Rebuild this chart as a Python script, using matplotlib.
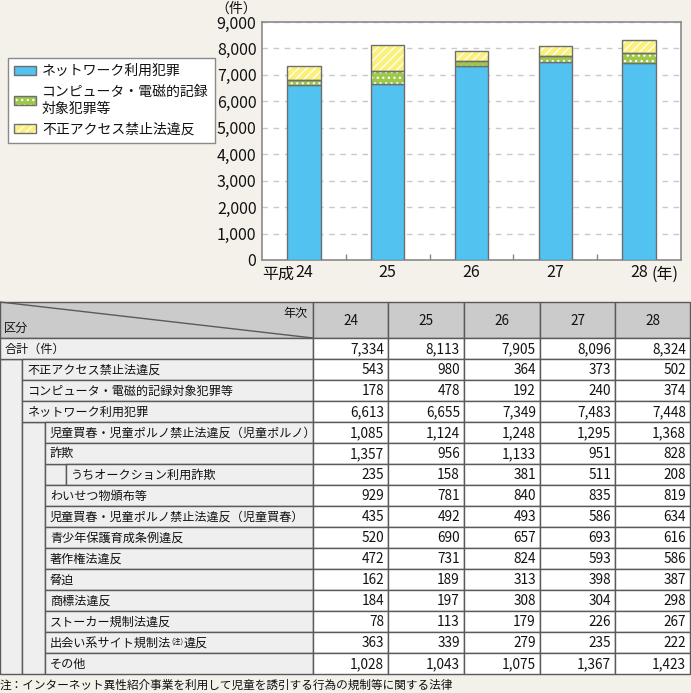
import matplotlib
matplotlib.use("Agg")
import matplotlib.pyplot as plt
from matplotlib.patches import Rectangle, Patch

plt.rcParams['font.family'] = ['Noto Sans CJK JP', 'DejaVu Sans']
plt.rcParams['hatch.linewidth'] = 0.9

# ---------------- data ----------------
years = ["24", "25", "26", "27", "28"]
row_labels = ["合計（件）", "不正アクセス禁止法違反", "コンピュータ・電磁的記録対象犯罪等",
              "ネットワーク利用犯罪", "児童買春・児童ポルノ禁止法違反（児童ポルノ）", "詐欺",
              "うちオークション利用詐欺", "わいせつ物頒布等", "児童買春・児童ポルノ禁止法違反（児童買春）",
              "青少年保護育成条例違反", "著作権法違反", "脅迫", "商標法違反", "ストーカー規制法違反",
              "出会い系サイト規制法|(注)|違反", "その他"]
row_levels = [0, 1, 1, 1, 2, 2, 3, 2, 2, 2, 2, 2, 2, 2, 2, 2]
h24 = [7334, 543, 178, 6613, 1085, 1357, 235, 929, 435, 520, 472, 162, 184, 78, 363, 1028]
h25 = [8113, 980, 478, 6655, 1124, 956, 158, 781, 492, 690, 731, 189, 197, 113, 339, 1043]
h26 = [7905, 364, 192, 7349, 1248, 1133, 381, 840, 493, 657, 824, 313, 308, 179, 279, 1075]
h27 = [8096, 373, 240, 7483, 1295, 951, 511, 835, 586, 693, 593, 398, 304, 226, 235, 1367]
h28 = [8324, 502, 374, 7448, 1368, 828, 208, 819, 634, 616, 586, 387, 298, 267, 222, 1423]
table_cols = [h24, h25, h26, h27, h28]

network = [c[3] for c in table_cols]
computer = [c[2] for c in table_cols]
access = [c[1] for c in table_cols]
legend_labels = ["ネットワーク利用犯罪", "コンピュータ・電磁的記録\n対象犯罪等", "不正アクセス禁止法違反"]
footnote = "注：インターネット異性紹介事業を利用して児童を誘引する行為の規制等に関する法律"

# ---------------- style ----------------
BG = '#f4f0ea'
BLUE = '#52c2f0'
GREEN = '#9dc84a'
YELLOW = '#fbf07a'
EDGE = '#6e6e6e'
GRIDC = '#c9c9c9'
HEADC = '#cbcbcb'
LABC = '#efefef'
LINEC = '#5a5a5a'
TXT = '#111111'

W, H = 691, 693
fig = plt.figure(figsize=(W / 100, H / 100), dpi=100, facecolor=BG)

# ---------------- table (pixel coordinates) ----------------
tab = fig.add_axes([0, 0, 1, 1])
tab.set_xlim(0, W)
tab.set_ylim(H, 0)
tab.axis('off')
tab.patch.set_alpha(0)

col_x = [313, 388, 464, 540, 615, 690]
indent = [0, 22, 45, 66]
top, head_bot, row_h = 302, 338, 21.0
lw = 1.0
LFS = 8.7
VFS = 9.8

def cell(x0, y0, x1, y1, fc):
    tab.add_patch(Rectangle((x0, y0), x1 - x0, y1 - y0, facecolor=fc,
                            edgecolor=LINEC, linewidth=lw))

# header
cell(0, top, col_x[0], head_bot, HEADC)
for j in range(5):
    cell(col_x[j], top, col_x[j + 1], head_bot, HEADC)
    tab.text((col_x[j] + col_x[j + 1]) / 2, (top + head_bot) / 2 + 1, years[j],
             ha='center', va='center', fontsize=VFS, color=TXT)
tab.plot([0, col_x[0]], [top, head_bot], color=LINEC, lw=1.0)
tab.text(col_x[0] - 5, 314, "年次", ha='right', va='center', fontsize=LFS, color=TXT)
tab.text(4, 328, "区分", ha='left', va='center', fontsize=LFS, color=TXT)

n = len(row_labels)
# merged left strips
for L in range(1, 4):
    i = 0
    while i < n:
        if row_levels[i] >= L:
            j = i
            while j + 1 < n and row_levels[j + 1] >= L:
                j += 1
            cell(indent[L - 1], head_bot + i * row_h, indent[L], head_bot + (j + 1) * row_h, LABC)
            i = j + 1
        else:
            i += 1

for i, (lab, lev) in enumerate(zip(row_labels, row_levels)):
    y0 = head_bot + i * row_h
    y1 = y0 + row_h
    yc = (y0 + y1) / 2 + 0.5
    cell(indent[lev], y0, col_x[0], y1, LABC)
    if '|' in lab:
        a, b, c = lab.split('|')
        t1 = tab.text(indent[lev] + 5, yc, a, ha='left', va='center', fontsize=LFS, color=TXT)
        t2 = tab.annotate(b, xy=(1, 0.62), xycoords=t1, ha='left', va='center',
                          fontsize=5.2, color=TXT)
        tab.annotate(c, xy=(1, 0.5), xycoords=(t2, t1), ha='left', va='center',
                     fontsize=LFS, color=TXT)
    else:
        tab.text(indent[lev] + 5, yc, lab, ha='left', va='center', fontsize=LFS, color=TXT)
    for j in range(5):
        cell(col_x[j], y0, col_x[j + 1], y1, 'white')
        tab.text(col_x[j + 1] - 4, yc, f"{table_cols[j][i]:,}", ha='right', va='center',
                 fontsize=VFS, color=TXT)

tab.text(0, 685, footnote, ha='left', va='center', fontsize=8.4, color=TXT)

# ---------------- bar chart ----------------
ax = fig.add_axes([262 / W, 1 - 260 / H, 419 / W, 238 / H])
ax.set_facecolor('white')
x = list(range(len(years)))
bw = 0.4

ax.bar(x, network, bw, color=BLUE, edgecolor=EDGE, linewidth=1.0, zorder=3)
bottom2 = network
ax.bar(x, computer, bw, bottom=bottom2, color=GREEN, edgecolor='white', hatch='...',
       linewidth=0, zorder=3)
ax.bar(x, computer, bw, bottom=bottom2, color='none', edgecolor=EDGE, linewidth=1.0, zorder=4)
bottom3 = [a + b for a, b in zip(network, computer)]
ax.bar(x, access, bw, bottom=bottom3, color=YELLOW, edgecolor='white', hatch='////',
       linewidth=0, zorder=3)
ax.bar(x, access, bw, bottom=bottom3, color='none', edgecolor=EDGE, linewidth=1.0, zorder=4)

TFS = 11.5
ax.set_xlim(-0.5, 4.5)
ax.set_ylim(0, 9000)
ax.set_yticks(range(0, 9001, 1000))
ax.set_yticklabels([f"{v:,}" for v in range(0, 9001, 1000)], fontsize=TFS, color=TXT)
ax.tick_params(axis='y', length=0, pad=4)
ax.set_xticks(x)
ax.set_xticklabels(years, fontsize=TFS, color=TXT)
ax.tick_params(axis='x', which='major', length=0, pad=3)
ax.set_xticks([0.5, 1.5, 2.5, 3.5], minor=True)
ax.tick_params(axis='x', which='minor', direction='in', length=4, color='#888', width=1)
ax.yaxis.grid(True, linestyle=(0, (4, 4)), color=GRIDC, linewidth=1.0, zorder=1)
ax.set_axisbelow(True)
for s in ax.spines.values():
    s.set_color('#8a8a8a')
    s.set_linewidth(1.2)

# prefix/suffix for x labels
ax.annotate("平成", xy=(0, 0), xycoords=('data', 'axes fraction'), xytext=(-7, -10.5),
            textcoords='offset points', ha='right', va='center', fontsize=TFS, color=TXT)
ax.annotate("(年)", xy=(4, 0), xycoords=('data', 'axes fraction'), xytext=(9, -10.5),
            textcoords='offset points', ha='left', va='center', fontsize=TFS, color=TXT)
fig.text(236 / W, 1 - 9 / H, "（件）", ha='center', va='center', fontsize=10, color=TXT)

# legend
h1 = Patch(facecolor=BLUE, edgecolor=EDGE, linewidth=1.0)
h2 = (Patch(facecolor=GREEN, edgecolor='white', hatch='...', linewidth=0),
      Patch(facecolor='none', edgecolor=EDGE, linewidth=1.0))
h3 = (Patch(facecolor=YELLOW, edgecolor='white', hatch='////', linewidth=0),
      Patch(facecolor='none', edgecolor=EDGE, linewidth=1.0))
leg = fig.legend([h1, h2, h3], legend_labels, loc='upper left',
                 bbox_to_anchor=(8 / W, 1 - 58 / H), frameon=True, fancybox=False,
                 edgecolor='#8a8a8a', facecolor='white', framealpha=1, fontsize=10,
                 handlelength=1.6, handleheight=0.6, handletextpad=0.4,
                 borderpad=0.45, labelspacing=0.5, borderaxespad=0)
for t in leg.get_texts():
    t.set_color(TXT)
leg.get_frame().set_linewidth(1.0)

fig.savefig("out.png", dpi=100, facecolor=BG)
